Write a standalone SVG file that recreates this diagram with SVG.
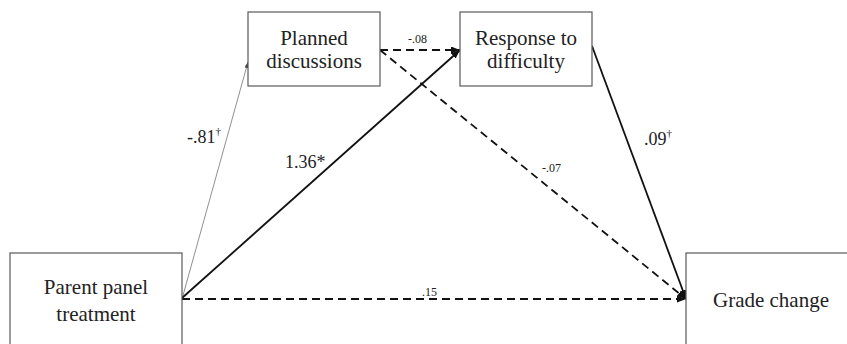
<svg xmlns="http://www.w3.org/2000/svg" width="847" height="344" viewBox="0 0 847 344">
  <style>
    .box { fill: #ffffff; stroke: #595959; stroke-width: 1.2; }
    .node { font-family: "Liberation Serif", "Times New Roman", serif; font-size: 21px; fill: #222; text-anchor: middle; }
    .lab { font-family: "Liberation Serif", "Times New Roman", serif; font-size: 18px; fill: #222; }
    .sm { font-family: "Liberation Serif", "Times New Roman", serif; font-size: 12px; fill: #222; }
    .sup { font-size: 11px; }
    .solid { fill: none; stroke: #111; stroke-width: 1.8; }
    .thin { fill: none; stroke: #444; stroke-width: 0.6; }
    .dash { fill: none; stroke: #111; stroke-width: 1.8; stroke-dasharray: 8 5; }
  </style>
  <defs>
    <marker id="ah" markerUnits="userSpaceOnUse" markerWidth="9" markerHeight="7" refX="9" refY="3.5" orient="auto">
      <path d="M0,0 L9,3.5 L0,7 z" fill="#111"/>
    </marker>
    <marker id="ahs" markerUnits="userSpaceOnUse" markerWidth="6" markerHeight="4" refX="6" refY="2" orient="auto">
      <path d="M0,0 L6,2 L0,4 z" fill="#444"/>
    </marker>
  </defs>

  <g id="connectors">
    <line class="thin" x1="182" y1="299" x2="248" y2="62" marker-end="url(#ahs)"/>
    <line class="solid" x1="182" y1="298" x2="460" y2="50" marker-end="url(#ah)"/>
    <line class="dash" x1="380" y1="50" x2="460" y2="50" marker-end="url(#ah)"/>
    <line class="dash" x1="380" y1="50" x2="686" y2="299" marker-end="url(#ah)"/>
    <line class="solid" x1="592" y1="46" x2="686" y2="299" marker-end="url(#ah)"/>
    <line class="dash" x1="182" y1="299" x2="686" y2="299" marker-end="url(#ah)"/>
    <text class="lab" x="187" y="143">-.81<tspan class="sup" dy="-8">†</tspan></text>
    <text class="lab" x="285" y="168">1.36*</text>
    <text class="sm" x="408" y="43">-.08</text>
    <text class="sm" x="542" y="172">-.07</text>
    <text class="lab" x="644" y="145">.09<tspan class="sup" dy="-8">†</tspan></text>
    <text class="sm" x="422" y="296">.15</text>
  </g>

  <g id="planned">
    <rect class="box" x="248" y="12" width="132" height="74"/>
    <text class="node" x="314" y="45">Planned</text>
    <text class="node" x="314" y="68">discussions</text>
  </g>
  <g id="response">
    <rect class="box" x="460" y="12" width="132" height="74"/>
    <text class="node" x="526" y="45">Response to</text>
    <text class="node" x="526" y="68">difficulty</text>
  </g>
  <g id="parent">
    <rect class="box" x="10" y="253" width="172" height="110"/>
    <text class="node" x="96" y="294">Parent panel</text>
    <text class="node" x="96" y="321">treatment</text>
  </g>
  <g id="grade">
    <rect class="box" x="686" y="253" width="180" height="110"/>
    <text class="node" x="771" y="307">Grade change</text>
  </g>
</svg>
